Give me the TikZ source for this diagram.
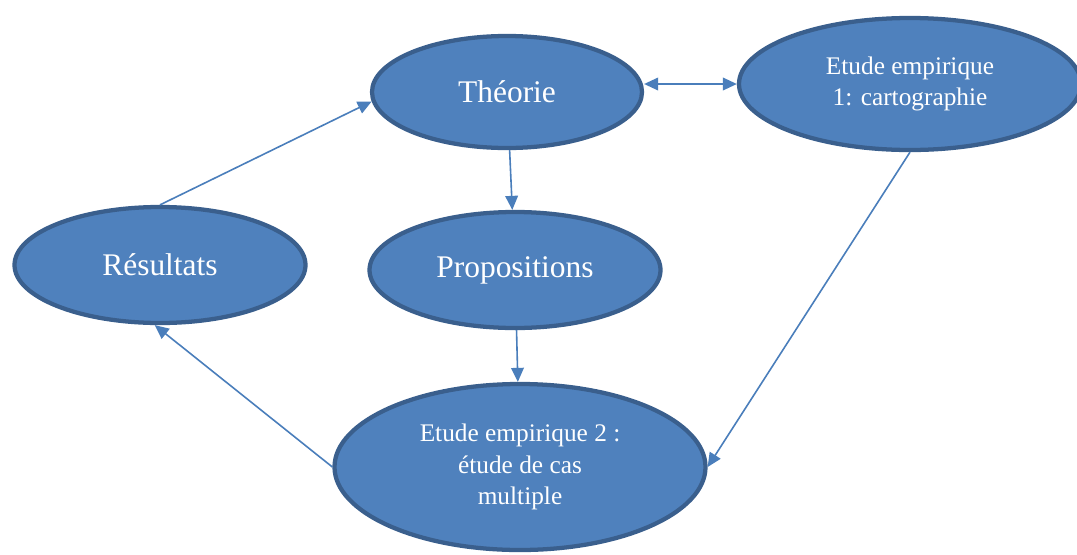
\documentclass[tikz,border=0pt]{standalone}
\usepackage{fontspec}
\setmainfont{Liberation Serif}
\usepackage{xcolor}
\usepackage{tikz}
\usetikzlibrary{positioning, shapes, shapes.geometric, calc, arrows.meta}

\definecolor{bubblefill}{HTML}{4F81BD}
\definecolor{bubbleline}{HTML}{3A5F8D}
\definecolor{linkblue}{HTML}{4A7EBB}

\begin{document}
\begin{tikzpicture}[x=0.75pt, y=-0.75pt,
    bubble/.style={ellipse, fill=bubblefill, draw=bubbleline, line width=3.2pt, inner sep=0pt, text=white, align=center},
    bigtext/.style={font=\fontsize{23.6}{28}\selectfont},
    smalltext/.style={font=\fontsize{19}{23.5}\selectfont},
    link/.style={draw=linkblue, line width=1.2pt, -{Triangle[length=10.5pt, width=9.5pt]}}]
      \useasboundingbox (0,0) rectangle (1077,554); % page size of the reference
      \node[bubble, bigtext, minimum width=270*0.75pt, minimum height=112*0.75pt] (theo) at (507,92) {Théorie};
      \node[bubble, smalltext, minimum width=342*0.75pt, minimum height=132*0.75pt] (emp1) at (910,84) {Etude empirique\\1: cartographie};
      \node[bubble, bigtext, minimum width=291*0.75pt, minimum height=116*0.75pt] (res) at (160,265) {Résultats};
      \node[bubble, bigtext, minimum width=291*0.75pt, minimum height=116*0.75pt] (prop) at (515,270) {Propositions};
      \node[bubble, smalltext, minimum width=371*0.75pt, minimum height=166*0.75pt] (emp2) at (520,467) {Etude empirique 2 :\\étude de cas\\multiple};
      % connectors
      \draw[link, {Triangle[length=10.5pt, width=9.5pt]}-{Triangle[length=10.5pt, width=9.5pt]}] (theo.east |- emp1.west) -- (emp1.west);
      \draw[link] (theo) -- (prop);
      \draw[link] (prop) -- (emp2);
      \draw[link] (res.north) -- (theo.184);
      \draw[link] (emp2.west) -- (res.265);
      \draw[link] (emp1.south) -- (emp2.east);
  \end{tikzpicture}
\end{document}
